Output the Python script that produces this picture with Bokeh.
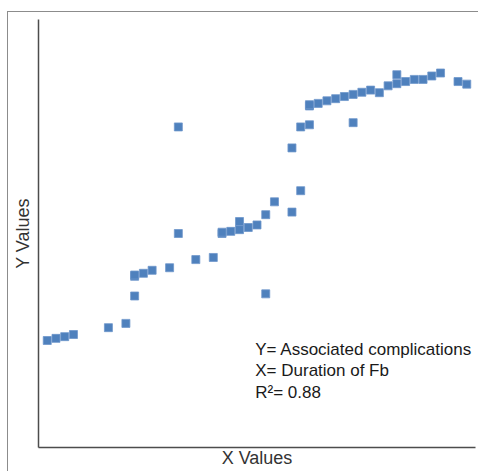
from bokeh.plotting import figure
from bokeh.models import Range1d, FixedTicker, Label
from bokeh.embed import file_html
from bokeh.resources import INLINE

# Duration of Fb (x) and associated complications (y)
x_vals = [1, 2, 3, 4, 8, 10, 11, 11, 11, 12, 13, 15, 16, 16, 18, 20, 21, 21, 22,
          23, 23, 24, 25, 26, 26, 27, 29, 29, 30, 30, 31, 31, 31, 32, 33, 34, 35,
          36, 36, 37, 38, 39, 40, 41, 41, 42, 43, 44, 45, 46, 48, 49]
y_vals = [25.0, 25.5, 25.9, 26.4, 28.0, 29.0, 35.4, 40.0, 40.3, 40.7, 41.4, 42.0,
          50.0, 74.9, 43.9, 44.4, 50.0, 50.3, 50.5, 52.8, 50.9, 51.4, 52.0, 54.4,
          35.9, 57.4, 55.0, 70.0, 60.0, 74.9, 75.4, 79.8, 80.1, 80.4, 81.0, 81.5,
          82.0, 82.5, 75.9, 83.0, 83.5, 82.9, 84.5, 85.0, 87.1, 85.5, 86.0, 86.0,
          86.8, 87.5, 85.5, 84.9]

x_title = "X Values"
y_title = "Y Values"
notes = ["Y= Associated complications", "X= Duration of Fb", "R\u00b2= 0.88"]

FONT = "Liberation Sans"

p = figure(width=471, height=460, output_backend="svg", toolbar_location=None,
           x_range=Range1d(0, 50), y_range=Range1d(0, 100),
           min_border_left=30, min_border_top=7, min_border_right=4,
           min_border_bottom=25)
p.margin = (11, 0, 0, 7)
p.styles = {"border-top": "1px solid #8c8c8c", "border-left": "1px solid #8c8c8c"}
p.background_fill_color = "white"
p.border_fill_color = "white"
p.outline_line_color = None
p.grid.visible = False

for ax in (p.xaxis[0], p.yaxis[0]):
    ax.ticker = FixedTicker(ticks=[])
    ax.major_tick_line_color = None
    ax.minor_tick_line_color = None
    ax.major_label_standoff = 0
    ax.major_tick_out = 0
    ax.major_tick_in = 0
    ax.axis_line_color = "#4d4d4d"
    ax.axis_line_width = 1.5
    ax.axis_label_text_font = FONT
    ax.axis_label_text_font_size = "18px"
    ax.axis_label_text_font_style = "normal"
    ax.axis_label_text_color = "#333333"

p.xaxis.axis_label = x_title
p.yaxis.axis_label = y_title
p.xaxis.axis_label_standoff = 0
p.yaxis.axis_label_standoff = 6

p.scatter(x_vals, y_vals, marker="square", size=8, fill_color="#4F81BD",
          line_color="#6f97cc", line_width=0.8)

note_y = [22.8, 17.9, 12.8]
for t, yy in zip(notes, note_y):
    p.add_layout(Label(x=24.8, y=yy, text=t, text_font=FONT, text_font_size="17px",
                       text_color="#1a1a1a", text_baseline="alphabetic"))

open("out.html", "w").write(file_html(p, INLINE))
